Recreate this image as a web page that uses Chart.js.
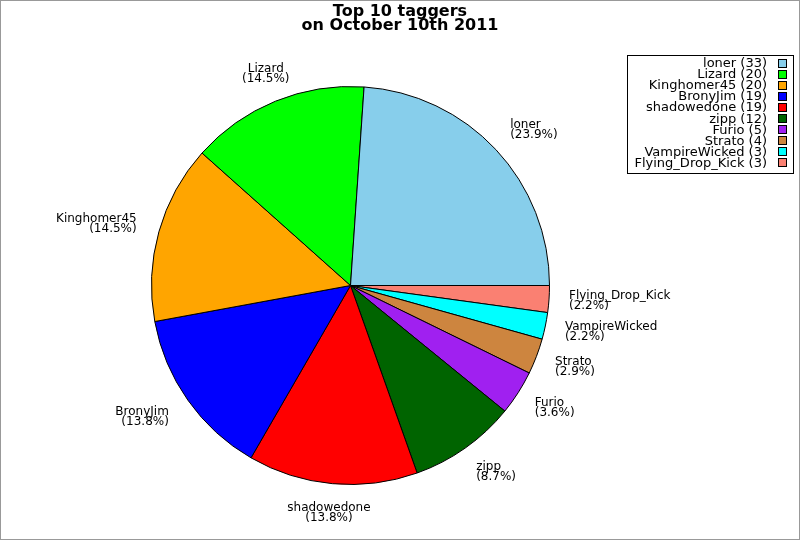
<!DOCTYPE html>
<html>
<head>
<meta charset="utf-8">
<script src="https://cdn.jsdelivr.net/npm/chart.js@4/dist/chart.umd.min.js"></script>
<style>
  body { margin: 0; background: #fff; }
  #wrap { width: 800px; height: 540px; position: relative; }
</style>
</head>
<body>
<div id="wrap"><canvas id="chart"></canvas></div>
<script>
const taggers = ['loner', 'Lizard', 'Kinghomer45', 'BronyJim', 'shadowedone', 'zipp', 'Furio', 'Strato', 'VampireWicked', 'Flying_Drop_Kick'];
const tagCounts = [33, 20, 20, 19, 19, 12, 5, 4, 3, 3];
const sliceColors = ['#87CEEB', '#00FF00', '#FFA500', '#0000FF', '#FF0000', '#006400', '#A020F0', '#CD853F', '#00FFFF', '#FA8072'];
const titleLines = ['Top 10 taggers', 'on October 10th 2011'];

const total = tagCounts.reduce((a, b) => a + b, 0);

// the original runs counter-clockwise from 3 o'clock, chart.js goes clockwise,
// so feed it the reversed order and start at 3 o'clock
const revLabels = taggers.slice().reverse();
const revCounts = tagCounts.slice().reverse();
const revColors = sliceColors.slice().reverse();

const FONT = '"DejaVu Sans", Verdana, sans-serif';

const decorPlugin = {
    id: 'decor',
    afterDraw(chart) {
        const ctx = chart.ctx;
        const meta = chart.getDatasetMeta(0);
        ctx.save();

        // title
        ctx.fillStyle = '#000';
        ctx.font = 'bold 16px ' + FONT;
        ctx.textAlign = 'center';
        ctx.textBaseline = 'alphabetic';
        ctx.fillText(titleLines[0], 400, 16);
        ctx.fillText(titleLines[1], 400, 29.5);

        // slice labels
        ctx.font = '12px ' + FONT;
        ctx.textBaseline = 'middle';
        meta.data.forEach((arc, i) => {
            const mid = (arc.startAngle + arc.endAngle) / 2;
            const c = Math.cos(mid), s = Math.sin(mid);
            const x = arc.x - 1.5 + c * 220.5;
            const y = arc.y + s * 228;
            ctx.textAlign = c > 0.45 ? 'left' : (c < -0.45 ? 'right' : 'center');
            const pct = (revCounts[i] / total * 100).toFixed(1);
            ctx.fillText(revLabels[i], x, y - 5);
            ctx.fillText('(' + pct + '%)', x, y + 5);
        });

        // legend
        ctx.strokeStyle = '#000';
        ctx.lineWidth = 1;
        ctx.strokeRect(627.5, 55.5, 166, 118);
        ctx.font = '13px ' + FONT;
        ctx.textAlign = 'right';
        ctx.textBaseline = 'alphabetic';
        taggers.forEach((name, i) => {
            const base = 67.3 + i * 11.04;
            ctx.fillStyle = '#000';
            ctx.fillText(name + ' (' + tagCounts[i] + ')', 767, base);
            ctx.fillStyle = sliceColors[i];
            const top = Math.round(base - 8.5) + 0.5;
            ctx.fillRect(778.5, top, 8, 8);
            ctx.strokeRect(778.5, top, 8, 8);
        });

        // outer frame
        ctx.strokeStyle = '#999';
        ctx.strokeRect(0.5, 0.5, 799, 539);
        ctx.restore();
    }
};

new Chart(document.getElementById('chart'), {
    type: 'pie',
    data: {
        labels: revLabels,
        datasets: [{
            data: revCounts,
            backgroundColor: revColors,
            borderColor: '#000',
            borderWidth: 1,
        }]
    },
    options: {
        responsive: true,
        maintainAspectRatio: false,
        animation: false,
        rotation: 90,
        layout: {
            padding: {left: 151, top: 86, right: 250, bottom: 55}
        },
        plugins: {
            legend: {display: false},
            tooltip: {enabled: false},
        }
    },
    plugins: [decorPlugin]
});
</script>
</body>
</html>
